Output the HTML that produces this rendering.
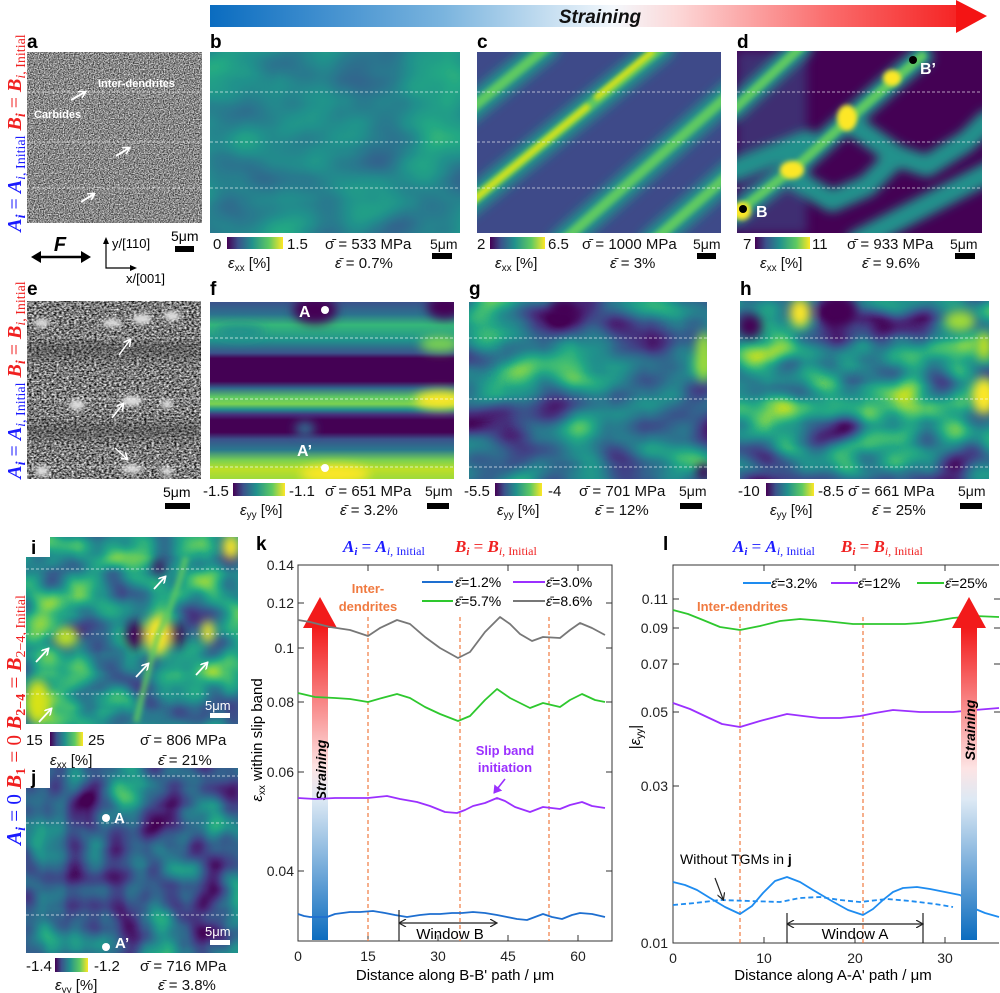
<!DOCTYPE html>
<html><head><meta charset="utf-8"><style>
html,body{margin:0;padding:0;background:#fff;}
svg{display:block;font-family:"Liberation Sans",sans-serif;}
.lb{font-weight:bold;font-size:19px;}
.t{font-size:15px;fill:#111;}
.tk{font-size:14px;fill:#222;}
.ser{font-family:"Liberation Serif",serif;}
</style></head><body>
<svg width="1000" height="993" viewBox="0 0 1000 993" xmlns="http://www.w3.org/2000/svg">
<defs>
<linearGradient id="topg" x1="210" y1="0" x2="987" y2="0" gradientUnits="userSpaceOnUse">
<stop offset="0" stop-color="#0a6cc0"/><stop offset="0.3" stop-color="#7ab4de"/><stop offset="0.52" stop-color="#f4f8fc"/><stop offset="0.6" stop-color="#fcd8d8"/><stop offset="0.8" stop-color="#fa6a6a"/><stop offset="1" stop-color="#f41414"/></linearGradient>
<linearGradient id="vir" x1="0" y1="0" x2="1" y2="0">
<stop offset="0" stop-color="#440154"/><stop offset="0.2" stop-color="#3b528b"/><stop offset="0.45" stop-color="#21918c"/><stop offset="0.75" stop-color="#5ec962"/><stop offset="1" stop-color="#fde725"/></linearGradient>
<linearGradient id="upg" x1="0" y1="0" x2="0" y2="1">
<stop offset="0" stop-color="#f21a1a"/><stop offset="0.45" stop-color="#fde4e4"/><stop offset="0.55" stop-color="#dde9f4"/><stop offset="1" stop-color="#0b6cbf"/></linearGradient>
<linearGradient id="fg" x1="0" y1="302" x2="0" y2="478" gradientUnits="userSpaceOnUse">
<stop offset="0" stop-color="#3b528b"/><stop offset="0.07" stop-color="#2c728e"/><stop offset="0.13" stop-color="#35b779"/><stop offset="0.22" stop-color="#21918c"/><stop offset="0.29" stop-color="#3b528b"/><stop offset="0.32" stop-color="#440154"/><stop offset="0.45" stop-color="#440154"/><stop offset="0.49" stop-color="#31688e"/><stop offset="0.54" stop-color="#5ec962"/><stop offset="0.58" stop-color="#7ad151"/><stop offset="0.61" stop-color="#21918c"/><stop offset="0.64" stop-color="#46327e"/><stop offset="0.67" stop-color="#440154"/><stop offset="0.74" stop-color="#440154"/><stop offset="0.78" stop-color="#3b528b"/><stop offset="0.84" stop-color="#2a788e"/><stop offset="0.9" stop-color="#7ad151"/><stop offset="0.95" stop-color="#bddf26"/><stop offset="1" stop-color="#a0da39"/></linearGradient>
<filter id="bl" x="-50%" y="-50%" width="200%" height="200%"><feGaussianBlur stdDeviation="5"/></filter>
<filter id="bl2" x="-50%" y="-50%" width="200%" height="200%"><feGaussianBlur stdDeviation="2.5"/></filter>
<filter id="nb" x="0" y="0" width="1" height="1" color-interpolation-filters="sRGB">
<feTurbulence type="fractalNoise" baseFrequency="0.015 0.02" numOctaves="2" seed="4"/>
<feColorMatrix type="matrix" values="0.5 0 0 0 0.22  0.5 0 0 0 0.22  0.5 0 0 0 0.22  0 0 0 0 1"/>
<feComponentTransfer><feFuncR type="table" tableValues="0.267 0.283 0.254 0.207 0.164 0.128 0.135 0.267 0.478 0.741 0.993"/><feFuncG type="table" tableValues="0.005 0.141 0.265 0.372 0.471 0.567 0.659 0.749 0.821 0.873 0.906"/><feFuncB type="table" tableValues="0.329 0.458 0.530 0.553 0.558 0.551 0.518 0.441 0.318 0.150 0.144"/></feComponentTransfer></filter>
<filter id="ng" x="0" y="0" width="1" height="1" color-interpolation-filters="sRGB">
<feTurbulence type="fractalNoise" baseFrequency="0.014 0.022" numOctaves="2" seed="11"/>
<feColorMatrix type="matrix" values="1.3 0 0 0 -0.27  1.3 0 0 0 -0.27  1.3 0 0 0 -0.27  0 0 0 0 1"/>
<feComponentTransfer><feFuncR type="table" tableValues="0.267 0.283 0.254 0.207 0.164 0.128 0.135 0.267 0.478 0.741 0.993"/><feFuncG type="table" tableValues="0.005 0.141 0.265 0.372 0.471 0.567 0.659 0.749 0.821 0.873 0.906"/><feFuncB type="table" tableValues="0.329 0.458 0.530 0.553 0.558 0.551 0.518 0.441 0.318 0.150 0.144"/></feComponentTransfer></filter>
<filter id="nh" x="0" y="0" width="1" height="1" color-interpolation-filters="sRGB">
<feTurbulence type="fractalNoise" baseFrequency="0.016 0.024" numOctaves="2" seed="23"/>
<feColorMatrix type="matrix" values="1.6 0 0 0 -0.35  1.6 0 0 0 -0.35  1.6 0 0 0 -0.35  0 0 0 0 1"/>
<feComponentTransfer><feFuncR type="table" tableValues="0.267 0.283 0.254 0.207 0.164 0.128 0.135 0.267 0.478 0.741 0.993"/><feFuncG type="table" tableValues="0.005 0.141 0.265 0.372 0.471 0.567 0.659 0.749 0.821 0.873 0.906"/><feFuncB type="table" tableValues="0.329 0.458 0.530 0.553 0.558 0.551 0.518 0.441 0.318 0.150 0.144"/></feComponentTransfer></filter>
<filter id="ni" x="0" y="0" width="1" height="1" color-interpolation-filters="sRGB">
<feTurbulence type="fractalNoise" baseFrequency="0.02 0.026" numOctaves="2" seed="7"/>
<feColorMatrix type="matrix" values="1.3 0 0 0 -0.15  1.3 0 0 0 -0.15  1.3 0 0 0 -0.15  0 0 0 0 1"/>
<feComponentTransfer><feFuncR type="table" tableValues="0.267 0.283 0.254 0.207 0.164 0.128 0.135 0.267 0.478 0.741 0.993"/><feFuncG type="table" tableValues="0.005 0.141 0.265 0.372 0.471 0.567 0.659 0.749 0.821 0.873 0.906"/><feFuncB type="table" tableValues="0.329 0.458 0.530 0.553 0.558 0.551 0.518 0.441 0.318 0.150 0.144"/></feComponentTransfer></filter>
<filter id="nj" x="0" y="0" width="1" height="1" color-interpolation-filters="sRGB">
<feTurbulence type="fractalNoise" baseFrequency="0.025" numOctaves="2" seed="17"/>
<feColorMatrix type="matrix" values="1.1 0 0 0 -0.25  1.1 0 0 0 -0.25  1.1 0 0 0 -0.25  0 0 0 0 1"/>
<feComponentTransfer><feFuncR type="table" tableValues="0.267 0.283 0.254 0.207 0.164 0.128 0.135 0.267 0.478 0.741 0.993"/><feFuncG type="table" tableValues="0.005 0.141 0.265 0.372 0.471 0.567 0.659 0.749 0.821 0.873 0.906"/><feFuncB type="table" tableValues="0.329 0.458 0.530 0.553 0.558 0.551 0.518 0.441 0.318 0.150 0.144"/></feComponentTransfer></filter>
<filter id="sa" x="0" y="0" width="1" height="1" color-interpolation-filters="sRGB">
<feTurbulence type="fractalNoise" baseFrequency="0.8" numOctaves="1" seed="2"/>
<feColorMatrix type="matrix" values="1.4 0 0 0 -0.17  1.4 0 0 0 -0.17  1.4 0 0 0 -0.17  0 0 0 0 1"/></filter>
<filter id="se" x="0" y="0" width="1" height="1" color-interpolation-filters="sRGB">
<feTurbulence type="fractalNoise" baseFrequency="0.4 0.6" numOctaves="2" seed="9"/>
<feColorMatrix type="matrix" values="1.6 0 0 0 -0.32  1.6 0 0 0 -0.32  1.6 0 0 0 -0.32  0 0 0 0 1"/></filter>
<marker id="ah" markerWidth="8" markerHeight="8" refX="6" refY="4" orient="auto" markerUnits="userSpaceOnUse"><path d="M0,0 L7,4 L0,8" fill="none" stroke="#fff" stroke-width="1.6"/></marker>
<marker id="ak" markerWidth="8" markerHeight="8" refX="6" refY="4" orient="auto" markerUnits="userSpaceOnUse"><path d="M0,0 L7,4 L0,8" fill="none" stroke="#222" stroke-width="1.2"/></marker>
<marker id="akb" markerWidth="8" markerHeight="8" refX="1" refY="4" orient="auto" markerUnits="userSpaceOnUse"><path d="M7,0 L0,4 L7,8" fill="none" stroke="#222" stroke-width="1.2"/></marker>
<marker id="ap" markerWidth="10" markerHeight="10" refX="7" refY="5" orient="auto" markerUnits="userSpaceOnUse"><path d="M0,0 L8,5 L0,10 Z" fill="#9b30ff"/></marker>
</defs>

<!-- top arrow -->
<rect x="210" y="5" width="748" height="22" fill="url(#topg)"/>
<polygon points="956,0 987,16 956,33" fill="#f41414"/>
<text x="600" y="23" text-anchor="middle" font-weight="bold" font-style="italic" font-size="19" fill="#111">Straining</text>

<!-- left rotated labels -->
<g class="ser" font-size="20" font-weight="bold">
<text transform="translate(21,133) rotate(-90)" text-anchor="middle"><tspan fill="#1a1aff" font-style="italic">A</tspan><tspan fill="#1a1aff" font-size="14" dy="4" font-style="italic">i</tspan><tspan fill="#1a1aff" dy="-4" font-weight="normal"> = </tspan><tspan fill="#1a1aff" font-style="italic">A</tspan><tspan fill="#1a1aff" font-size="14" dy="4" font-weight="normal"><tspan font-style="italic">i</tspan>, Initial</tspan><tspan dy="-4">  </tspan><tspan fill="#f02020" font-style="italic">B</tspan><tspan fill="#f02020" font-size="14" dy="4" font-style="italic">i</tspan><tspan fill="#f02020" dy="-4" font-weight="normal"> = </tspan><tspan fill="#f02020" font-style="italic">B</tspan><tspan fill="#f02020" font-size="14" dy="4" font-weight="normal"><tspan font-style="italic">i</tspan>, Initial</tspan></text>
<text transform="translate(21,380) rotate(-90)" text-anchor="middle"><tspan fill="#1a1aff" font-style="italic">A</tspan><tspan fill="#1a1aff" font-size="14" dy="4" font-style="italic">i</tspan><tspan fill="#1a1aff" dy="-4" font-weight="normal"> = </tspan><tspan fill="#1a1aff" font-style="italic">A</tspan><tspan fill="#1a1aff" font-size="14" dy="4" font-weight="normal"><tspan font-style="italic">i</tspan>, Initial</tspan><tspan dy="-4">  </tspan><tspan fill="#f02020" font-style="italic">B</tspan><tspan fill="#f02020" font-size="14" dy="4" font-style="italic">i</tspan><tspan fill="#f02020" dy="-4" font-weight="normal"> = </tspan><tspan fill="#f02020" font-style="italic">B</tspan><tspan fill="#f02020" font-size="14" dy="4" font-weight="normal"><tspan font-style="italic">i</tspan>, Initial</tspan></text>
<text transform="translate(21,720) rotate(-90)" text-anchor="middle" font-size="21"><tspan fill="#1a1aff" font-style="italic">A</tspan><tspan fill="#1a1aff" font-size="14" dy="4" font-style="italic">i</tspan><tspan fill="#1a1aff" dy="-4" font-weight="normal"> = 0  </tspan><tspan fill="#f02020" font-style="italic">B</tspan><tspan fill="#f02020" font-size="14" dy="4">1</tspan><tspan fill="#f02020" dy="-4" font-weight="normal"> = 0  </tspan><tspan fill="#f02020" font-style="italic">B</tspan><tspan fill="#f02020" font-size="14" dy="4">2−4</tspan><tspan fill="#f02020" dy="-4" font-weight="normal"> = </tspan><tspan fill="#f02020" font-style="italic">B</tspan><tspan fill="#f02020" font-size="14" dy="4" font-weight="normal">2−4, Initial</tspan></text>
</g>

<!-- panel labels -->
<g class="lb"><text x="27" y="48">a</text><text x="210" y="48">b</text><text x="477" y="48">c</text><text x="737" y="48">d</text>
<text x="27" y="295">e</text><text x="210" y="295">f</text><text x="469" y="295">g</text><text x="740" y="295">h</text>
<text x="256" y="550">k</text><text x="663" y="550">l</text></g>

<!-- a -->
<svg x="27" y="52" width="175" height="171"><rect width="175" height="171" fill="#888" filter="url(#sa)"/>
<g stroke="#fff" stroke-dasharray="3,2" stroke-width="0.8" opacity="0.8"><line x1="0" y1="40" x2="175" y2="40"/><line x1="0" y1="90" x2="175" y2="90"/><line x1="0" y1="136" x2="175" y2="136"/></g>
<text x="71" y="35" font-size="11" font-weight="bold" fill="#fff">Inter-dendrites</text>
<text x="7" y="66" font-size="11" font-weight="bold" fill="#fff">Carbides</text>
<g stroke="#fff" stroke-width="2" marker-end="url(#ah)"><line x1="44" y1="48" x2="58" y2="40"/><line x1="89" y1="104" x2="102" y2="96"/><line x1="54" y1="150" x2="67" y2="142"/></g></svg>
<text x="171" y="241" font-size="14">5μm</text><rect x="175" y="246" width="19" height="6" fill="#000"/>
<text x="60" y="251" font-size="20" font-weight="bold" font-style="italic" text-anchor="middle">F</text>
<g stroke="#000" stroke-width="2.5"><line x1="36" y1="257" x2="86" y2="257"/></g>
<polygon points="31,257 41,251 41,263" fill="#000"/><polygon points="91,257 81,251 81,263" fill="#000"/>
<g stroke="#000" stroke-width="1.2" fill="none"><polyline points="106,241 106,268 134,268"/></g>
<polygon points="106,237 103,244 109,244" fill="#000"/><polygon points="137,268 130,265 130,271" fill="#000"/>
<text x="112" y="248" font-size="13">y/[110]</text><text x="126" y="283" font-size="13">x/[001]</text>

<!-- b -->
<svg x="210" y="52" width="250" height="181"><rect width="250" height="181" fill="#21918c" filter="url(#nb)"/>
<g stroke="#fff" stroke-dasharray="3,2" stroke-width="0.8" opacity="0.8"><line x1="0" y1="40" x2="250" y2="40"/><line x1="0" y1="90" x2="250" y2="90"/><line x1="0" y1="136" x2="250" y2="136"/></g></svg>

<!-- c -->
<svg x="477" y="52" width="244" height="181"><rect width="244" height="181" fill="#3e4a89"/>
<g fill="none" stroke-linecap="round">
<g filter="url(#bl)" stroke="#21918c" stroke-width="26"><line x1="-10" y1="153" x2="185" y2="-5"/><line x1="-10" y1="60" x2="70" y2="-5"/><line x1="85" y1="190" x2="255" y2="40"/><line x1="175" y1="190" x2="255" y2="120"/></g>
<g filter="url(#bl2)" stroke="#5ec962" stroke-width="10"><line x1="-10" y1="153" x2="185" y2="-5"/><line x1="-10" y1="60" x2="70" y2="-5"/><line x1="85" y1="190" x2="255" y2="40"/><line x1="175" y1="190" x2="255" y2="120"/></g>
<g filter="url(#bl2)" stroke="#d8e219" stroke-width="6"><line x1="-5" y1="149" x2="110" y2="55"/><line x1="120" y1="45" x2="175" y2="0"/></g></g>
<g stroke="#fff" stroke-dasharray="3,2" stroke-width="0.8" opacity="0.8"><line x1="0" y1="40" x2="244" y2="40"/><line x1="0" y1="90" x2="244" y2="90"/><line x1="0" y1="136" x2="244" y2="136"/></g></svg>

<!-- d -->
<svg x="737" y="51" width="245" height="182"><rect width="245" height="182" fill="#440154"/>
<rect x="0" y="0" width="70" height="182" fill="#3b528b" opacity="0.55" filter="url(#bl)"/>
<g fill="none" stroke-linecap="round" stroke-linejoin="round">
<g filter="url(#bl)" stroke="#21918c" stroke-width="22"><polyline points="-5,165 60,115 110,70 150,35 185,5"/><line x1="-5" y1="60" x2="65" y2="-5"/><polyline points="110,70 160,105 190,115 230,90 250,70"/><polyline points="60,130 95,150 130,135 160,105"/><line x1="120" y1="190" x2="255" y2="120"/><polyline points="70,90 20,110 -5,120"/></g>
<g filter="url(#bl2)" stroke="#5ec962" stroke-width="9"><polyline points="-5,165 60,115 110,70 150,35 185,5"/><line x1="-5" y1="60" x2="65" y2="-5"/></g>
</g>
<g filter="url(#bl2)" fill="#fde725"><ellipse cx="55" cy="119" rx="12" ry="9"/><ellipse cx="110" cy="67" rx="10" ry="13"/><ellipse cx="155" cy="27" rx="9" ry="8"/><ellipse cx="5" cy="160" rx="9" ry="9"/></g>
<g stroke="#fff" stroke-dasharray="3,2" stroke-width="0.8" opacity="0.8"><line x1="0" y1="41" x2="245" y2="41"/><line x1="0" y1="91" x2="245" y2="91"/><line x1="0" y1="137" x2="245" y2="137"/></g>
<circle cx="6" cy="158" r="4" fill="#000"/><text x="19" y="166" font-size="16" font-weight="bold" fill="#fff">B</text>
<circle cx="176" cy="9" r="4" fill="#000"/><text x="183" y="23" font-size="16" font-weight="bold" fill="#fff">B’</text></svg>

<!-- row1 colorbars -->
<g class="t">
<text x="213" y="249">0</text><rect x="227" y="237" width="56" height="12" fill="url(#vir)"/><text x="287" y="249">1.5</text><text x="325" y="249">σ̄ = 533 MPa</text>
<text x="228" y="268" font-style="italic">ε<tspan font-size="10" dy="3" font-style="normal">xx</tspan><tspan dy="-3" font-style="normal"> [%]</tspan></text><text x="335" y="268"><tspan font-style="italic">ε̄</tspan> = 0.7%</text>
<text x="430" y="249" font-size="14">5μm</text><rect x="432" y="253" width="20" height="6" fill="#000"/>
<text x="477" y="249">2</text><rect x="490" y="237" width="55" height="12" fill="url(#vir)"/><text x="548" y="249">6.5</text><text x="582" y="249">σ̄ = 1000 MPa</text>
<text x="495" y="268" font-style="italic">ε<tspan font-size="10" dy="3" font-style="normal">xx</tspan><tspan dy="-3" font-style="normal"> [%]</tspan></text><text x="610" y="268"><tspan font-style="italic">ε̄</tspan> = 3%</text>
<text x="693" y="249" font-size="14">5μm</text><rect x="697" y="253" width="19" height="6" fill="#000"/>
<text x="743" y="249">7</text><rect x="755" y="237" width="55" height="12" fill="url(#vir)"/><text x="812" y="249">11</text><text x="847" y="249">σ̄ = 933 MPa</text>
<text x="760" y="268" font-style="italic">ε<tspan font-size="10" dy="3" font-style="normal">xx</tspan><tspan dy="-3" font-style="normal"> [%]</tspan></text><text x="862" y="268"><tspan font-style="italic">ε̄</tspan> = 9.6%</text>
<text x="950" y="249" font-size="14">5μm</text><rect x="955" y="253" width="20" height="6" fill="#000"/>
</g>

<!-- e -->
<svg x="27" y="301" width="174" height="178"><rect width="174" height="178" fill="#777" filter="url(#se)"/>
<g fill="#ddd" filter="url(#bl2)"><ellipse cx="15" cy="22" rx="8" ry="4"/><ellipse cx="85" cy="22" rx="10" ry="4"/><ellipse cx="115" cy="18" rx="10" ry="5"/><ellipse cx="145" cy="15" rx="8" ry="5"/><ellipse cx="50" cy="104" rx="8" ry="5"/><ellipse cx="105" cy="100" rx="10" ry="5"/><ellipse cx="140" cy="103" rx="6" ry="4"/><ellipse cx="105" cy="168" rx="10" ry="4"/><ellipse cx="140" cy="170" rx="6" ry="4"/><ellipse cx="15" cy="170" rx="7" ry="5"/></g>
<g fill="#333" opacity="0.35" filter="url(#bl)"><rect x="0" y="40" width="174" height="18"/><rect x="0" y="122" width="174" height="16"/></g>
<g stroke="#fff" stroke-dasharray="3,2" stroke-width="0.8" opacity="0.8"><line x1="0" y1="37" x2="174" y2="37"/><line x1="0" y1="98" x2="174" y2="98"/><line x1="0" y1="166" x2="174" y2="166"/></g>
<g stroke="#fff" stroke-width="1.5" marker-end="url(#ah)"><line x1="92" y1="54" x2="103" y2="39"/><line x1="85" y1="117" x2="96" y2="103"/><line x1="88" y1="147" x2="100" y2="158"/></g></svg>
<text x="163" y="497" font-size="14">5μm</text><rect x="165" y="503" width="25" height="6" fill="#000"/>

<!-- f -->
<svg x="210" y="302" width="244" height="177"><rect width="244" height="177" fill="url(#fg)" transform="translate(0,-302)" y="302"/>
<g filter="url(#bl)"><ellipse cx="105" cy="8" rx="22" ry="14" fill="#440154"/><ellipse cx="235" cy="5" rx="18" ry="12" fill="#440154"/><ellipse cx="230" cy="98" rx="25" ry="9" fill="#fde725"/><ellipse cx="125" cy="172" rx="35" ry="9" fill="#fde725"/><ellipse cx="230" cy="42" rx="20" ry="8" fill="#7ad151"/><ellipse cx="30" cy="30" rx="25" ry="8" fill="#21918c"/><ellipse cx="95" cy="127" rx="10" ry="8" fill="#31688e"/></g>
<g stroke="#fff" stroke-dasharray="3,2" stroke-width="0.8" opacity="0.85"><line x1="0" y1="36" x2="244" y2="36"/><line x1="0" y1="97" x2="244" y2="97"/><line x1="0" y1="165" x2="244" y2="165"/></g>
<circle cx="115" cy="8" r="4" fill="#fff"/><text x="89" y="15" font-size="16" font-weight="bold" fill="#fff">A</text>
<circle cx="115" cy="166" r="4" fill="#fff"/><text x="87" y="154" font-size="16" font-weight="bold" fill="#fff">A’</text></svg>

<!-- g -->
<svg x="469" y="302" width="238" height="177"><rect width="238" height="177" fill="#21918c" filter="url(#ng)"/>
<g filter="url(#bl)"><ellipse cx="95" cy="8" rx="15" ry="12" fill="#440154"/><ellipse cx="235" cy="55" rx="8" ry="25" fill="#a0da39"/><ellipse cx="235" cy="170" rx="8" ry="8" fill="#440154"/></g>
<g stroke="#fff" stroke-dasharray="3,2" stroke-width="0.8" opacity="0.85"><line x1="0" y1="36" x2="238" y2="36"/><line x1="0" y1="97" x2="238" y2="97"/><line x1="0" y1="165" x2="238" y2="165"/></g></svg>

<!-- h -->
<svg x="740" y="301" width="249" height="178"><rect width="249" height="178" fill="#21918c" filter="url(#nh)"/>
<g filter="url(#bl)"><ellipse cx="98" cy="10" rx="18" ry="16" fill="#440154"/><ellipse cx="10" cy="25" rx="12" ry="12" fill="#440154"/><ellipse cx="60" cy="12" rx="10" ry="14" fill="#fde725"/><ellipse cx="244" cy="95" rx="12" ry="18" fill="#fde725"/><ellipse cx="244" cy="45" rx="8" ry="14" fill="#bddf26"/><ellipse cx="220" cy="20" rx="15" ry="10" fill="#a0da39"/></g>
<g stroke="#fff" stroke-dasharray="3,2" stroke-width="0.8" opacity="0.85"><line x1="0" y1="37" x2="249" y2="37"/><line x1="0" y1="98" x2="249" y2="98"/><line x1="0" y1="166" x2="249" y2="166"/></g></svg>

<!-- row2 colorbars -->
<g class="t">
<text x="203" y="496">-1.5</text><rect x="233" y="483" width="52" height="13" fill="url(#vir)"/><text x="289" y="496">-1.1</text><text x="325" y="496">σ̄ = 651 MPa</text>
<text x="240" y="515" font-style="italic">ε<tspan font-size="10" dy="3" font-style="normal">yy</tspan><tspan dy="-3" font-style="normal"> [%]</tspan></text><text x="340" y="515"><tspan font-style="italic">ε̄</tspan> = 3.2%</text>
<text x="425" y="496" font-size="14">5μm</text><rect x="427" y="503" width="22" height="6" fill="#000"/>
<text x="464" y="496">-5.5</text><rect x="495" y="483" width="47" height="13" fill="url(#vir)"/><text x="548" y="496">-4</text><text x="579" y="496">σ̄ = 701 MPa</text>
<text x="497" y="515" font-style="italic">ε<tspan font-size="10" dy="3" font-style="normal">yy</tspan><tspan dy="-3" font-style="normal"> [%]</tspan></text><text x="595" y="515"><tspan font-style="italic">ε̄</tspan> = 12%</text>
<text x="679" y="496" font-size="14">5μm</text><rect x="680" y="503" width="22" height="6" fill="#000"/>
<text x="738" y="496">-10</text><rect x="766" y="483" width="48" height="13" fill="url(#vir)"/><text x="818" y="496">-8.5</text><text x="848" y="496">σ̄ = 661 MPa</text>
<text x="770" y="515" font-style="italic">ε<tspan font-size="10" dy="3" font-style="normal">yy</tspan><tspan dy="-3" font-style="normal"> [%]</tspan></text><text x="872" y="515"><tspan font-style="italic">ε̄</tspan> = 25%</text>
<text x="958" y="496" font-size="14">5μm</text><rect x="960" y="503" width="22" height="6" fill="#000"/>
</g>

<!-- i -->
<svg x="26" y="537" width="212" height="187"><rect width="212" height="187" fill="#21918c" filter="url(#ni)"/>
<g filter="url(#bl)"><ellipse cx="110" cy="98" rx="10" ry="14" fill="#440154"/><ellipse cx="150" cy="98" rx="9" ry="12" fill="#440154"/><ellipse cx="132" cy="98" rx="12" ry="20" fill="#fde725"/><ellipse cx="182" cy="95" rx="6" ry="11" fill="#fde725"/><ellipse cx="133" cy="30" rx="5" ry="8" fill="#440154"/><ellipse cx="40" cy="100" rx="12" ry="10" fill="#bddf26"/><ellipse cx="12" cy="165" rx="12" ry="22" fill="#d8e219"/><ellipse cx="205" cy="10" rx="8" ry="12" fill="#fde725"/></g>
<g fill="none" stroke="#5ec962" stroke-width="6" filter="url(#bl2)" opacity="0.8"><path d="M132,98 Q150,60 160,20"/><path d="M132,98 Q120,140 110,185"/></g>
<g stroke="#fff" stroke-dasharray="3,2" stroke-width="0.8" opacity="0.85"><line x1="0" y1="32" x2="212" y2="32"/><line x1="0" y1="97" x2="212" y2="97"/><line x1="0" y1="157" x2="185" y2="157"/></g>
<g stroke="#fff" stroke-width="1.8" marker-end="url(#ah)"><line x1="128" y1="52" x2="139" y2="40"/><line x1="10" y1="125" x2="22" y2="112"/><line x1="110" y1="140" x2="122" y2="127"/><line x1="170" y1="138" x2="181" y2="126"/><line x1="13" y1="185" x2="25" y2="172"/></g>
<rect x="0" y="0" width="24" height="20" fill="#fff"/><text x="5" y="17" class="lb">i</text>
<text x="179" y="173" font-size="13" fill="#fff">5μm</text><rect x="184" y="176" width="20" height="5" fill="#fff"/></svg>
<g class="t"><text x="26" y="745">15</text><rect x="50" y="732" width="33" height="14" fill="url(#vir)"/><text x="88" y="745">25</text><text x="140" y="745">σ̄ = 806 MPa</text>
<text x="50" y="765" font-style="italic">ε<tspan font-size="10" dy="3" font-style="normal">xx</tspan><tspan dy="-3" font-style="normal"> [%]</tspan></text><text x="158" y="765"><tspan font-style="italic">ε̄</tspan> = 21%</text></g>

<!-- j -->
<svg x="26" y="768" width="212" height="185"><rect width="212" height="185" fill="#3b528b" filter="url(#nj)"/>
<g stroke="#fff" stroke-dasharray="3,2" stroke-width="0.8" opacity="0.85"><line x1="31" y1="8" x2="212" y2="8"/><line x1="0" y1="55" x2="212" y2="55"/><line x1="0" y1="147" x2="212" y2="147"/></g>
<circle cx="80" cy="50" r="4" fill="#fff"/><text x="88" y="55" font-size="15" font-weight="bold" fill="#fff">A</text>
<circle cx="80" cy="179" r="4" fill="#fff"/><text x="89" y="180" font-size="15" font-weight="bold" fill="#fff">A’</text>
<rect x="0" y="0" width="24" height="20" fill="#fff"/><text x="5" y="16" class="lb">j</text>
<text x="179" y="168" font-size="13" fill="#fff">5μm</text><rect x="184" y="172" width="20" height="5" fill="#fff"/></svg>
<g class="t"><text x="26" y="971">-1.4</text><rect x="55" y="958" width="33" height="14" fill="url(#vir)"/><text x="94" y="971">-1.2</text><text x="140" y="971">σ̄ = 716 MPa</text>
<text x="55" y="990" font-style="italic">ε<tspan font-size="10" dy="3" font-style="normal">yy</tspan><tspan dy="-3" font-style="normal"> [%]</tspan></text><text x="158" y="990"><tspan font-style="italic">ε̄</tspan> = 3.8%</text></g>

<!-- k plot -->
<g class="ser" font-size="17" font-weight="bold">
<text x="343" y="552"><tspan fill="#1a1aff" font-style="italic">A</tspan><tspan fill="#1a1aff" font-size="11" dy="3" font-style="italic">i</tspan><tspan fill="#1a1aff" dy="-3" font-weight="normal"> = </tspan><tspan fill="#1a1aff" font-style="italic">A</tspan><tspan fill="#1a1aff" font-size="12" dy="3" font-weight="normal"><tspan font-style="italic">i,</tspan> Initial</tspan></text>
<text x="455" y="552"><tspan fill="#f02020" font-style="italic">B</tspan><tspan fill="#f02020" font-size="11" dy="3" font-style="italic">i</tspan><tspan fill="#f02020" dy="-3" font-weight="normal"> = </tspan><tspan fill="#f02020" font-style="italic">B</tspan><tspan fill="#f02020" font-size="12" dy="3" font-weight="normal"><tspan font-style="italic">i,</tspan> Initial</tspan></text>
<text x="733" y="552"><tspan fill="#1a1aff" font-style="italic">A</tspan><tspan fill="#1a1aff" font-size="11" dy="3" font-style="italic">i</tspan><tspan fill="#1a1aff" dy="-3" font-weight="normal"> = </tspan><tspan fill="#1a1aff" font-style="italic">A</tspan><tspan fill="#1a1aff" font-size="12" dy="3" font-weight="normal"><tspan font-style="italic">i,</tspan> Initial</tspan></text>
<text x="841" y="552"><tspan fill="#f02020" font-style="italic">B</tspan><tspan fill="#f02020" font-size="11" dy="3" font-style="italic">i</tspan><tspan fill="#f02020" dy="-3" font-weight="normal"> = </tspan><tspan fill="#f02020" font-style="italic">B</tspan><tspan fill="#f02020" font-size="12" dy="3" font-weight="normal"><tspan font-style="italic">i,</tspan> Initial</tspan></text>
</g>

<rect x="298" y="565" width="314" height="376" fill="none" stroke="#333" stroke-width="1"/>
<g stroke="#333" stroke-width="1">
<line x1="298" y1="603" x2="304" y2="603"/><line x1="298" y1="648" x2="304" y2="648"/><line x1="298" y1="702" x2="304" y2="702"/><line x1="298" y1="772" x2="304" y2="772"/><line x1="298" y1="871" x2="304" y2="871"/>
<line x1="612" y1="603" x2="606" y2="603"/><line x1="612" y1="648" x2="606" y2="648"/><line x1="612" y1="702" x2="606" y2="702"/><line x1="612" y1="772" x2="606" y2="772"/><line x1="612" y1="871" x2="606" y2="871"/>
<line x1="368" y1="941" x2="368" y2="935"/><line x1="438" y1="941" x2="438" y2="935"/><line x1="508" y1="941" x2="508" y2="935"/><line x1="578" y1="941" x2="578" y2="935"/>
<line x1="368" y1="565" x2="368" y2="571"/><line x1="438" y1="565" x2="438" y2="571"/><line x1="508" y1="565" x2="508" y2="571"/><line x1="578" y1="565" x2="578" y2="571"/></g>
<g class="tk" text-anchor="end"><text x="294" y="570">0.14</text><text x="294" y="608">0.12</text><text x="294" y="653">0.1</text><text x="294" y="707">0.08</text><text x="294" y="777">0.06</text><text x="294" y="876">0.04</text></g>
<g class="tk" text-anchor="middle"><text x="298" y="961">0</text><text x="368" y="961">15</text><text x="438" y="961">30</text><text x="508" y="961">45</text><text x="578" y="961">60</text></g>
<text x="455" y="980" font-size="15" text-anchor="middle">Distance along B-B' path / μm</text>
<text transform="translate(262,740) rotate(-90)" font-size="15" text-anchor="middle"><tspan font-style="italic">ε</tspan><tspan font-size="10" dy="3">xx</tspan><tspan dy="-3"> within slip band</tspan></text>
<rect x="312" y="627" width="16" height="313" fill="url(#upg)"/>
<polygon points="303,628 320,597 337,628" fill="#f21a1a"/>
<text transform="translate(326,770) rotate(-90)" font-size="14" font-weight="bold" font-style="italic" text-anchor="middle">Straining</text>
<g stroke="#f07a40" stroke-width="1.2" stroke-dasharray="4,3"><line x1="368" y1="617" x2="368" y2="941"/><line x1="460" y1="617" x2="460" y2="941"/><line x1="549" y1="617" x2="549" y2="941"/></g>
<text x="368" y="593" font-size="13" font-weight="bold" fill="#f07a40" text-anchor="middle">Inter-</text>
<text x="368" y="611" font-size="13" font-weight="bold" fill="#f07a40" text-anchor="middle">dendrites</text>
<g fill="none" stroke-width="1.8" stroke-linejoin="round">
<polyline stroke="#777" points="298,620 310,622 330,627 350,630 368,636 380,628 397,620 410,624 425,637 440,648 458,658 470,652 485,632 500,617 510,624 520,634 532,641 543,637 560,638 570,630 580,623 592,628 605,635"/>
<polyline stroke="#2ec82e" points="298,693 315,697 335,698 350,699 368,702 382,698 397,694 410,698 425,707 440,714 458,721 470,716 485,700 497,689 510,698 530,708 543,703 560,707 570,700 582,694 595,700 605,702"/>
<polyline stroke="#9b30ff" points="298,798 315,799 335,798 350,798 368,798 387,796 400,799 417,802 430,806 445,812 457,813 465,810 473,806 485,803 497,798 505,801 515,807 530,812 543,807 560,809 570,805 582,802 592,806 605,808"/>
<polyline stroke="#1e6fd0" points="298,914 304,916 310,917 318,917 327,917 335,914 350,912 360,912 373,911 385,913 395,915 407,917 420,915 430,914 440,914 452,913 462,913 473,912 485,913 497,915 507,917 517,919 527,920 535,917 543,914 552,917 562,919 572,915 580,913 592,914 605,917"/>
</g>
<line x1="399" y1="910" x2="399" y2="941" stroke="#222" stroke-width="1.2"/>
<line x1="400" y1="923" x2="496" y2="923" stroke="#222" stroke-width="1.2" marker-end="url(#ak)" marker-start="url(#akb)"/>
<text x="450" y="939" font-size="15" text-anchor="middle">Window B</text>
<text x="505" y="755" font-size="13" font-weight="bold" fill="#9b30ff" text-anchor="middle">Slip band</text>
<text x="505" y="772" font-size="13" font-weight="bold" fill="#9b30ff" text-anchor="middle">initiation</text>
<line x1="505" y1="779" x2="494" y2="793" stroke="#9b30ff" stroke-width="1.6" marker-end="url(#ap)"/>
<g stroke-width="2"><line x1="422" y1="582" x2="453" y2="582" stroke="#1e6fd0"/><line x1="513" y1="582" x2="545" y2="582" stroke="#9b30ff"/><line x1="422" y1="601" x2="453" y2="601" stroke="#2ec82e"/><line x1="513" y1="601" x2="545" y2="601" stroke="#777"/></g>
<g font-size="14"><text x="455" y="587"><tspan font-style="italic">ε̄</tspan>=1.2%</text><text x="546" y="587"><tspan font-style="italic">ε̄</tspan>=3.0%</text><text x="455" y="606"><tspan font-style="italic">ε̄</tspan>=5.7%</text><text x="546" y="606"><tspan font-style="italic">ε̄</tspan>=8.6%</text></g>

<!-- l plot -->
<polyline points="999,565 673,565 673,943 999,943" fill="none" stroke="#333" stroke-width="1"/>
<g stroke="#333" stroke-width="1">
<line x1="673" y1="599" x2="679" y2="599"/><line x1="673" y1="628" x2="679" y2="628"/><line x1="673" y1="664" x2="679" y2="664"/><line x1="673" y1="712" x2="679" y2="712"/><line x1="673" y1="786" x2="679" y2="786"/>
<line x1="1000" y1="599" x2="994" y2="599"/><line x1="1000" y1="628" x2="994" y2="628"/><line x1="1000" y1="664" x2="994" y2="664"/><line x1="1000" y1="712" x2="994" y2="712"/>
<line x1="764" y1="943" x2="764" y2="937"/><line x1="855" y1="943" x2="855" y2="937"/><line x1="945" y1="943" x2="945" y2="937"/>
<line x1="764" y1="565" x2="764" y2="571"/><line x1="855" y1="565" x2="855" y2="571"/><line x1="945" y1="565" x2="945" y2="571"/></g>
<g class="tk" text-anchor="end"><text x="668" y="604">0.11</text><text x="668" y="633">0.09</text><text x="668" y="669">0.07</text><text x="668" y="717">0.05</text><text x="668" y="791">0.03</text><text x="668" y="948">0.01</text></g>
<g class="tk" text-anchor="middle"><text x="673" y="963">0</text><text x="764" y="963">10</text><text x="855" y="963">20</text><text x="945" y="963">30</text></g>
<text x="833" y="980" font-size="15" text-anchor="middle">Distance along A-A' path / μm</text>
<text transform="translate(640,737) rotate(-90)" font-size="15" text-anchor="middle">|<tspan font-style="italic">ε</tspan><tspan font-size="10" dy="3">yy</tspan><tspan dy="-3">|</tspan></text>
<g stroke="#f07a40" stroke-width="1.2" stroke-dasharray="4,3"><line x1="740" y1="617" x2="740" y2="943"/><line x1="863" y1="617" x2="863" y2="943"/></g>
<text x="697" y="611" font-size="13" font-weight="bold" fill="#f07a40">Inter-dendrites</text>
<g fill="none" stroke-width="1.8" stroke-linejoin="round">
<polyline stroke="#2ec82e" points="673,610 688,614 703,620 720,627 740,630 760,626 780,621 800,619 825,621 853,624 880,624 905,624 920,623 935,621 953,618 975,616 999,617"/>
<polyline stroke="#9b30ff" points="673,703 690,709 707,717 722,724 740,727 760,721 787,714 803,716 820,718 840,718 860,716 875,713 893,710 920,712 953,712 975,710 999,708"/>
<polyline stroke="#1e8cf0" points="673,882 685,885 697,890 710,898 725,907 740,914 752,906 763,893 775,881 787,877 800,882 813,890 830,900 848,910 863,915 873,909 883,900 893,892 903,888 917,887 930,889 940,891 960,895 968,900 973,908 985,913 999,917"/>
<polyline stroke="#1e8cf0" stroke-dasharray="5,3" points="673,905 695,903 720,900 750,901 780,902 800,898 820,897 840,900 860,902 887,899 910,901 935,904 953,907"/>
</g>
<line x1="787" y1="913" x2="787" y2="943" stroke="#222" stroke-width="1.2"/><line x1="923" y1="913" x2="923" y2="943" stroke="#222" stroke-width="1.2"/>
<line x1="788" y1="924" x2="922" y2="924" stroke="#222" stroke-width="1.2" marker-end="url(#ak)" marker-start="url(#akb)"/>
<text x="855" y="939" font-size="15" text-anchor="middle">Window A</text>
<text x="680" y="864" font-size="14">Without TGMs in <tspan font-weight="bold">j</tspan></text>
<line x1="715" y1="878" x2="723" y2="899" stroke="#222" stroke-width="1.2" marker-end="url(#ak)"/>
<rect x="961" y="628" width="16" height="312" fill="url(#upg)"/>
<polygon points="952,628 969,597 986,628" fill="#f21a1a"/>
<text transform="translate(975,730) rotate(-90)" font-size="14" font-weight="bold" font-style="italic" text-anchor="middle">Straining</text>
<g stroke-width="2"><line x1="743" y1="583" x2="771" y2="583" stroke="#1e8cf0"/><line x1="831" y1="583" x2="858" y2="583" stroke="#9b30ff"/><line x1="917" y1="583" x2="944" y2="583" stroke="#2ec82e"/></g>
<g font-size="14"><text x="771" y="588"><tspan font-style="italic">ε̄</tspan>=3.2%</text><text x="858" y="588"><tspan font-style="italic">ε̄</tspan>=12%</text><text x="945" y="588"><tspan font-style="italic">ε̄</tspan>=25%</text></g>
</svg>
</body></html>
